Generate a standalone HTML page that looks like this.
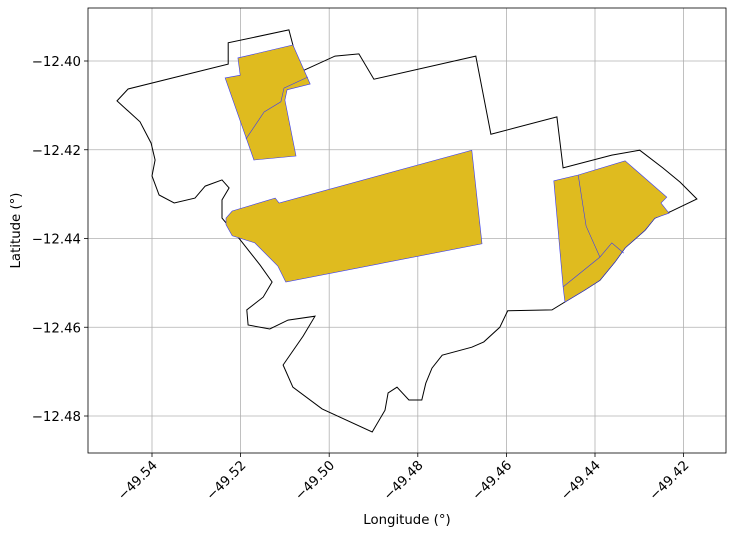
<!DOCTYPE html>
<html><head><meta charset="utf-8"><style>
html,body{margin:0;padding:0;background:#fff;}
svg{display:block;font-family:"DejaVu Sans","Liberation Sans",sans-serif;}
</style></head><body>
<svg id="chart" width="734" height="536"></svg>
<script>
const xTicks=[-49.54,-49.52,-49.50,-49.48,-49.46,-49.44,-49.42];
const yTicks=[-12.40,-12.42,-12.44,-12.46,-12.48];
const xTickLabels=["\u221249.54","\u221249.52","\u221249.50","\u221249.48","\u221249.46","\u221249.44","\u221249.42"];
const yTickLabels=["\u221212.40","\u221212.42","\u221212.44","\u221212.46","\u221212.48"];
const boundary=[[-49.5479,-12.4090],[-49.5454,-12.4063],[-49.5228,-12.4007],[-49.5228,-12.3959],[-49.5091,-12.3930],[-49.5066,-12.4025],[-49.4987,-12.3989],[-49.4933,-12.3984],[-49.4899,-12.4041],[-49.4669,-12.3989],[-49.4635,-12.4165],[-49.4486,-12.4126],[-49.4472,-12.4241],[-49.4362,-12.4212],[-49.4299,-12.4201],[-49.4247,-12.4241],[-49.4208,-12.4273],[-49.4170,-12.4311],[-49.4231,-12.4340],[-49.4265,-12.4354],[-49.4287,-12.4381],[-49.4332,-12.4421],[-49.4355,-12.4453],[-49.4389,-12.4494],[-49.4423,-12.4516],[-49.4468,-12.4543],[-49.4497,-12.4561],[-49.4597,-12.4563],[-49.4615,-12.4600],[-49.4651,-12.4633],[-49.4678,-12.4645],[-49.4745,-12.4663],[-49.4768,-12.4692],[-49.4782,-12.4726],[-49.4791,-12.4764],[-49.4820,-12.4764],[-49.4847,-12.4735],[-49.4867,-12.4748],[-49.4874,-12.4787],[-49.4903,-12.4836],[-49.5016,-12.4784],[-49.5082,-12.4735],[-49.5104,-12.4685],[-49.5059,-12.4620],[-49.5032,-12.4575],[-49.5093,-12.4584],[-49.5134,-12.4604],[-49.5183,-12.4595],[-49.5186,-12.4561],[-49.5149,-12.4532],[-49.5129,-12.4498],[-49.5156,-12.4460],[-49.5201,-12.4403],[-49.5242,-12.4354],[-49.5242,-12.4313],[-49.5226,-12.4286],[-49.5242,-12.4268],[-49.5280,-12.4282],[-49.5303,-12.4309],[-49.5350,-12.4320],[-49.5384,-12.4302],[-49.5400,-12.4259],[-49.5393,-12.4223],[-49.5402,-12.4185],[-49.5427,-12.4137]];
const areaA=[[-49.5235,-12.4038],[-49.5201,-12.4032],[-49.5206,-12.3993],[-49.5082,-12.3964],[-49.5043,-12.4052],[-49.5095,-12.4065],[-49.5100,-12.4088],[-49.5075,-12.4214],[-49.5170,-12.4223]];
const areaB=[[-49.5233,-12.4354],[-49.5219,-12.4338],[-49.5122,-12.4309],[-49.5113,-12.4320],[-49.4678,-12.4201],[-49.4655,-12.4412],[-49.5098,-12.4498],[-49.5116,-12.4462],[-49.5168,-12.4410],[-49.5219,-12.4394],[-49.5233,-12.4369]];
const areaC=[[-49.4493,-12.4270],[-49.4438,-12.4257],[-49.4332,-12.4225],[-49.4238,-12.4307],[-49.4251,-12.4320],[-49.4233,-12.4343],[-49.4265,-12.4354],[-49.4287,-12.4381],[-49.4332,-12.4421],[-49.4355,-12.4453],[-49.4389,-12.4494],[-49.4423,-12.4516],[-49.4468,-12.4543],[-49.4472,-12.4509]];
const innerLines=[
 [[-49.5188,-12.4176],[-49.5147,-12.4115],[-49.5109,-12.4092],[-49.5102,-12.4061],[-49.5048,-12.4036]],
 [[-49.4438,-12.4257],[-49.4420,-12.4372],[-49.4389,-12.4442]],
 [[-49.4472,-12.4509],[-49.4389,-12.4442],[-49.4362,-12.4410],[-49.4335,-12.4433]]
];
const L=88,R=726,T=8,B=453;
const sx=v=>152+(v+49.54)*4430;
const sy=v=>61-(v+12.40)*4437.5;
const NS="http://www.w3.org/2000/svg";
const svg=document.getElementById('chart');
function mk(tag,attrs,parent){const e=document.createElementNS(NS,tag);for(const k in attrs)e.setAttribute(k,attrs[k]);(parent||svg).appendChild(e);return e;}
const pts=a=>a.map(p=>sx(p[0]).toFixed(1)+","+sy(p[1]).toFixed(1)).join(" ");
xTicks.forEach((v,i)=>{
 const g=mk('line',{x1:sx(v),x2:sx(v),y1:T,y2:B,stroke:'#b0b0b0','stroke-width':0.8});
 
 
 mk('line',{x1:sx(v),x2:sx(v),y1:B,y2:B+4,stroke:'#000','stroke-width':0.8});
 const t=mk('text',{x:0,y:0,'font-size':13.3,'text-anchor':'end',transform:`translate(${sx(v)+6},${B+13}) rotate(-45)`});
 t.textContent=xTickLabels[i];
 
 
});
yTicks.forEach((v,i)=>{
 const g=mk('line',{x1:L,x2:R,y1:sy(v),y2:sy(v),stroke:'#b0b0b0','stroke-width':0.8});
 
 
 mk('line',{x1:L-4,x2:L,y1:sy(v),y2:sy(v),stroke:'#000','stroke-width':0.8});
 const t=mk('text',{x:L-7,y:sy(v)+5,'font-size':13.3,'text-anchor':'end'});
 t.textContent=yTickLabels[i];
 
 
});
const bnd=mk('polygon',{points:pts(boundary),fill:'none',stroke:'#000','stroke-width':1});


[areaA,areaB,areaC].forEach((a,i)=>{
 const p=mk('polygon',{points:pts(a),fill:'#dfbb1f',stroke:'#3a3cf5','stroke-width':0.6});
 
 
});
innerLines.forEach(l=>{
 const p=mk('polyline',{points:pts(l),fill:'none',stroke:'#3a3cf5','stroke-width':0.6});
 
 
});
const fr=mk('rect',{x:L,y:T,width:R-L,height:B-T,fill:'none',stroke:'#000','stroke-width':0.8});


const xl=mk('text',{x:(L+R)/2,y:524,'font-size':13.3,'text-anchor':'middle'});
xl.textContent='Longitude (°)';


const yl=mk('text',{x:0,y:0,'font-size':13.3,'text-anchor':'middle',transform:`translate(20,${(T+B)/2}) rotate(-90)`});
yl.textContent='Latitude (°)';


</script>
</body></html>
